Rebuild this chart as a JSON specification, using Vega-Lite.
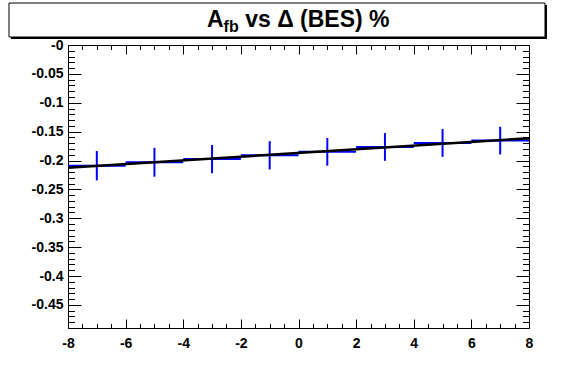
{
  "$schema": "https://vega.github.io/schema/vega-lite/v6.json",
  "width": 461,
  "height": 283,
  "autosize": {"type": "none"},
  "padding": {"left": 68, "top": 45, "right": 46, "bottom": 51},
  "background": "white",
  "config": {
    "view": {"stroke": "black", "strokeWidth": 1},
    "axis": {"grid": false, "domain": false, "title": null, "tickColor": "black", "tickWidth": 1, "labelFlush": false, "labelOverlap": false, "labelBound": false}
  },
  "datasets": {
    "points": [
      {"x": -7, "xlo": -8, "xhi": -6, "y": -0.209, "ylo": -0.2345, "yhi": -0.1835},
      {"x": -5, "xlo": -6, "xhi": -4, "y": -0.203, "ylo": -0.228, "yhi": -0.178},
      {"x": -3, "xlo": -4, "xhi": -2, "y": -0.1975, "ylo": -0.222, "yhi": -0.173},
      {"x": -1, "xlo": -2, "xhi": 0, "y": -0.191, "ylo": -0.2155, "yhi": -0.1665},
      {"x": 1, "xlo": 0, "xhi": 2, "y": -0.185, "ylo": -0.209, "yhi": -0.161},
      {"x": 3, "xlo": 2, "xhi": 4, "y": -0.1765, "ylo": -0.2005, "yhi": -0.1525},
      {"x": 5, "xlo": 4, "xhi": 6, "y": -0.1695, "ylo": -0.1935, "yhi": -0.1455},
      {"x": 7, "xlo": 6, "xhi": 8, "y": -0.1655, "ylo": -0.1895, "yhi": -0.1415}
    ],
    "fit": [
      {"x": -8, "y": -0.2125},
      {"x": 8, "y": -0.1615}
    ],
    "one": [{}]
  },
  "resolve": {"axis": {"x": "independent", "y": "independent"}},
  "layer": [
    {
      "data": {"name": "points"},
      "mark": {"type": "rule", "color": "#0000ff", "strokeWidth": 2},
      "encoding": {
        "x": {"field": "x", "type": "quantitative", "scale": {"domain": [-8, 8], "nice": false, "zero": false},
          "axis": {"orient": "bottom", "ticks": false, "values": [-8, -6, -4, -2, 0, 2, 4, 6, 8], "labelFont": "Liberation Sans", "labelFontWeight": "bold", "labelFontSize": 14, "labelColor": "black", "labelPadding": 8,
            "labelExpr": "datum.value < 0 ? '-' + format(abs(datum.value), 'd') : format(datum.value, 'd')"}},
        "y": {"field": "ylo", "type": "quantitative", "scale": {"domain": [-0.49, 0], "nice": false, "zero": false},
          "axis": {"orient": "left", "ticks": false, "values": [0, -0.05, -0.1, -0.15, -0.2, -0.25, -0.3, -0.35, -0.4, -0.45], "labelFont": "Liberation Sans", "labelFontWeight": "bold", "labelFontSize": 14, "labelColor": "black", "labelPadding": 5,
            "labelExpr": "'-' + format(abs(datum.value), '~g')"}},
        "y2": {"field": "yhi"}
      }
    },
    {
      "data": {"name": "points"},
      "mark": {"type": "rule", "color": "#0000ff", "strokeWidth": 2},
      "encoding": {
        "x": {"field": "xlo", "type": "quantitative",
          "axis": {"orient": "top", "offset": -283, "labels": false, "tickSize": 9, "values": [-8, -6, -4, -2, 0, 2, 4, 6, 8]}},
        "x2": {"field": "xhi"},
        "y": {"field": "y", "type": "quantitative",
          "axis": {"orient": "right", "offset": -461, "labels": false, "tickSize": 13, "values": [0, -0.05, -0.1, -0.15, -0.2, -0.25, -0.3, -0.35, -0.4, -0.45]}}
      }
    },
    {
      "data": {"name": "fit"},
      "mark": {"type": "line", "color": "black", "strokeWidth": 2.5},
      "encoding": {
        "x": {"field": "x", "type": "quantitative",
          "axis": {"orient": "top", "offset": -283, "labels": false, "tickSize": 4.5, "values": [-7.5, -7, -6.5, -5.5, -5, -4.5, -3.5, -3, -2.5, -1.5, -1, -0.5, 0.5, 1, 1.5, 2.5, 3, 3.5, 4.5, 5, 5.5, 6.5, 7, 7.5]}},
        "y": {"field": "y", "type": "quantitative",
          "axis": {"orient": "right", "offset": -461, "labels": false, "tickSize": 6.5, "values": [-0.01, -0.02, -0.03, -0.04, -0.06, -0.07, -0.08, -0.09, -0.11, -0.12, -0.13, -0.14, -0.16, -0.17, -0.18, -0.19, -0.21, -0.22, -0.23, -0.24, -0.26, -0.27, -0.28, -0.29, -0.31, -0.32, -0.33, -0.34, -0.36, -0.37, -0.38, -0.39, -0.41, -0.42, -0.43, -0.44, -0.46, -0.47, -0.48]}}
      }
    },
    {
      "data": {"name": "one"},
      "mark": {"type": "rect", "color": "black"},
      "encoding": {
        "x": {"datum": -9.979, "type": "quantitative",
          "axis": {"orient": "bottom", "offset": -283, "labels": false, "tickSize": 9, "values": [-8, -6, -4, -2, 0, 2, 4, 6, 8]}},
        "x2": {"datum": 8.624},
        "y": {"datum": 0.0693, "type": "quantitative",
          "axis": {"orient": "left", "offset": -461, "labels": false, "tickSize": 13, "values": [0, -0.05, -0.1, -0.15, -0.2, -0.25, -0.3, -0.35, -0.4, -0.45]}},
        "y2": {"datum": 0.0104}
      }
    },
    {
      "data": {"name": "one"},
      "mark": {"type": "rect", "fill": "white", "stroke": "black", "strokeWidth": 1},
      "encoding": {
        "x": {"datum": -10.048, "type": "quantitative",
          "axis": {"orient": "bottom", "offset": -283, "labels": false, "tickSize": 4.5, "values": [-7.5, -7, -6.5, -5.5, -5, -4.5, -3.5, -3, -2.5, -1.5, -1, -0.5, 0.5, 1, 1.5, 2.5, 3, 3.5, 4.5, 5, 5.5, 6.5, 7, 7.5]}},
        "x2": {"datum": 8.555},
        "y": {"datum": 0.0727, "type": "quantitative",
          "axis": {"orient": "left", "offset": -461, "labels": false, "tickSize": 6.5, "values": [-0.01, -0.02, -0.03, -0.04, -0.06, -0.07, -0.08, -0.09, -0.11, -0.12, -0.13, -0.14, -0.16, -0.17, -0.18, -0.19, -0.21, -0.22, -0.23, -0.24, -0.26, -0.27, -0.28, -0.29, -0.31, -0.32, -0.33, -0.34, -0.36, -0.37, -0.38, -0.39, -0.41, -0.42, -0.43, -0.44, -0.46, -0.47, -0.48]}},
        "y2": {"datum": 0.01385}
      }
    },
    {
      "data": {"name": "one"},
      "mark": {"type": "text", "text": "A", "font": "Liberation Sans", "fontWeight": "bold", "fontSize": 23, "align": "left", "baseline": "alphabetic", "color": "black"},
      "encoding": {
        "x": {"datum": -3.176, "type": "quantitative", "axis": null},
        "y": {"datum": 0.0312, "type": "quantitative", "axis": null}
      }
    },
    {
      "data": {"name": "one"},
      "mark": {"type": "text", "text": "fb", "font": "Liberation Sans", "fontWeight": "bold", "fontSize": 16, "align": "left", "baseline": "alphabetic", "color": "black"},
      "encoding": {
        "x": {"datum": -2.6, "type": "quantitative", "axis": null},
        "y": {"datum": 0.0225, "type": "quantitative", "axis": null}
      }
    },
    {
      "data": {"name": "one"},
      "mark": {"type": "text", "text": "vs Δ (BES) %", "font": "Liberation Sans", "fontWeight": "bold", "fontSize": 23, "align": "left", "baseline": "alphabetic", "color": "black"},
      "encoding": {
        "x": {"datum": -1.85, "type": "quantitative", "axis": null},
        "y": {"datum": 0.0312, "type": "quantitative", "axis": null}
      }
    }
  ]
}
